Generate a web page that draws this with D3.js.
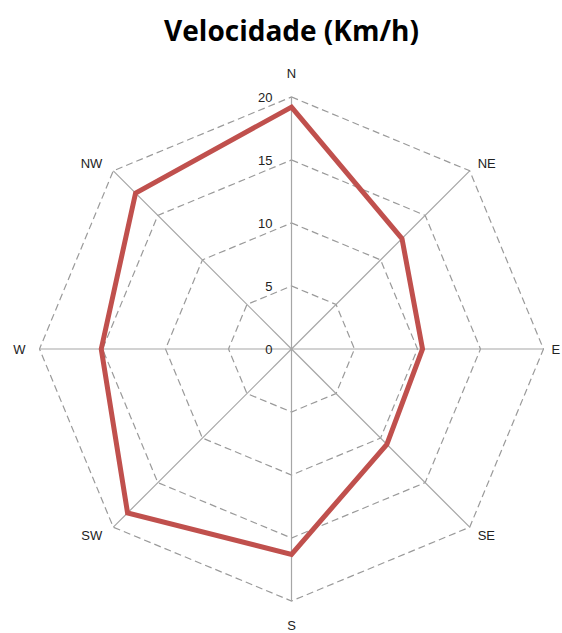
<!DOCTYPE html>
<html>
<head>
<meta charset="utf-8">
<script src="https://cdnjs.cloudflare.com/ajax/libs/d3/7.8.5/d3.min.js"></script>
<style>
  body { margin: 0; background: #fff; }
  text { font-family: "Liberation Sans", Arial, sans-serif; }
</style>
</head>
<body>
<script>
var width = 562,
    height = 633;

// data
var directions = ['N', 'NE', 'E', 'SE', 'S', 'SW', 'W', 'NW'];
var speeds = [19.2, 12.4, 10.4, 10.7, 16.3, 18.4, 15.1, 17.5];
var ticks = [0, 5, 10, 15, 20];

var cx = 291.5,
    cy = 349,
    outer = 252;

var svg = d3.select('body')
  .append('svg')
  .attr('width', width)
  .attr('height', height);

var r = d3.scaleLinear().domain([0, 20]).range([0, outer]);
var angle = d3.scalePoint().domain(directions.concat(['_'])).range([0, 2 * Math.PI]);

function pt(dir, v) {
  var a = angle(dir);
  return [cx + r(v) * Math.sin(a), cy - r(v) * Math.cos(a)];
}

var g = svg.append('g');

// dashed octagon gridlines
ticks.filter(function(t) { return t > 0; }).forEach(function(t) {
  g.append('path')
    .attr('d', d3.line()(directions.map(function(d) { return pt(d, t); })) + 'Z')
    .attr('fill', 'none')
    .attr('stroke', '#9a9a9a')
    .attr('stroke-width', 1.2)
    .attr('stroke-dasharray', '7,4');
});

// spokes
g.selectAll('.spoke')
  .data(directions)
  .enter().append('line')
  .attr('x1', cx).attr('y1', cy)
  .attr('x2', function(d) { return pt(d, 20)[0]; })
  .attr('y2', function(d) { return pt(d, 20)[1]; })
  .attr('stroke', '#a6a6a6')
  .attr('stroke-width', 1.2);

// tick labels on N axis
g.selectAll('.tick')
  .data(ticks)
  .enter().append('text')
  .attr('x', cx - 19)
  .attr('y', function(d) { return cy - r(d) + 5; })
  .attr('text-anchor', 'end')
  .attr('font-size', 13)
  .attr('fill', '#222')
  .text(function(d) { return d; });

// direction labels
var labelPos = {
  N: [0, -19], NE: [8, -3], E: [8, 5], SE: [8, 13],
  S: [0, 29], SW: [-11, 13], W: [-14, 5], NW: [-11, -3]
};
var anchors = { N: 'middle', NE: 'start', E: 'start', SE: 'start', S: 'middle', SW: 'end', W: 'end', NW: 'end' };

g.selectAll('.dir')
  .data(directions)
  .enter().append('text')
  .attr('x', function(d) { return pt(d, 20)[0] + labelPos[d][0]; })
  .attr('y', function(d) { return pt(d, 20)[1] + labelPos[d][1]; })
  .attr('text-anchor', function(d) { return anchors[d]; })
  .attr('font-size', 13)
  .attr('fill', '#222')
  .text(function(d) { return d; });

// series
g.append('path')
  .attr('d', d3.line()(directions.map(function(d, i) { return pt(d, speeds[i]); })) + 'Z')
  .attr('fill', 'none')
  .attr('stroke', '#c0504d')
  .attr('stroke-width', 5)
  .attr('stroke-linejoin', 'miter');

// title
svg.append('text')
  .attr('x', cx)
  .attr('y', 41)
  .attr('text-anchor', 'middle')
  .attr('font-size', 28)
  .attr('font-weight', 'bold')
  .attr('fill', '#000')
  .style('font-family', '"Open Sans", sans-serif')
  .text('Velocidade (Km/h)');
</script>
</body>
</html>
